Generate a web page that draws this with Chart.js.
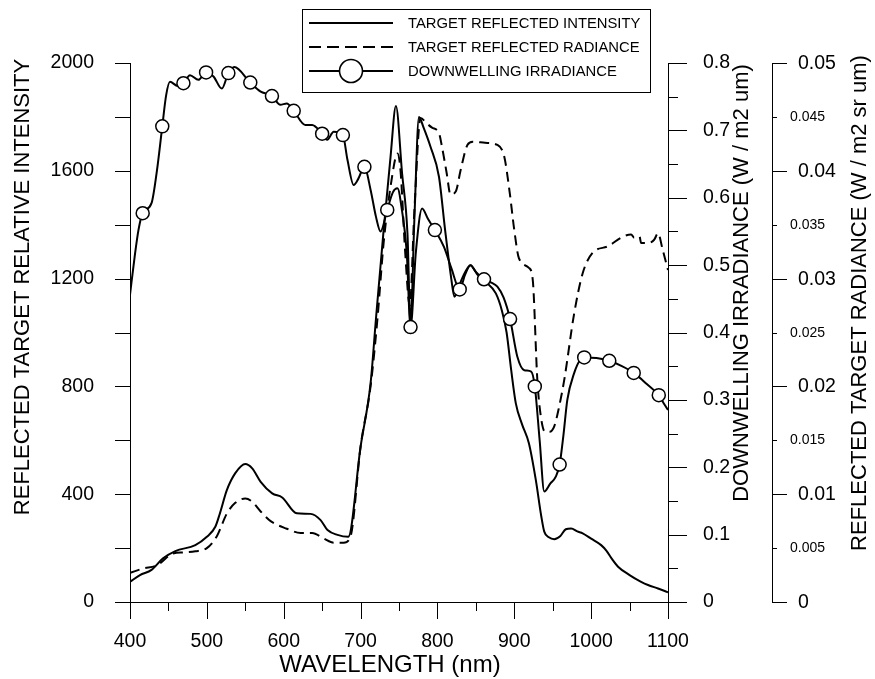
<!DOCTYPE html>
<html>
<head>
<meta charset="utf-8">
<script src="https://cdn.jsdelivr.net/npm/chart.js@4.4.1/dist/chart.umd.min.js"></script>
<style>
  html, body { margin: 0; padding: 0; background: #fff; }
  #wrap { width: 875px; height: 679px; }
</style>
</head>
<body>
<div id="wrap"><canvas id="chart" width="875" height="679"></canvas></div>
<script>
// wavelength (nm) / reflected target relative intensity
const intensityWl = [400,413,428,443,459,485,500,511,517,526,537,550,559,570,585,598,617,635,648,657,670,684,700,713,720,730,739,746,754,761,765,770,776,782,791,802,810,818,822,832,843,852,862,876,884,890,896,902,910,919,928,935,939,945,952,960,967,974,982,989,1000,1013,1020,1027,1035,1050,1065,1074,1087,1100];
const intensityVal = [75,100,119,162,189,211,242,279,329,415,478,512,496,446,403,388,329,327,304,267,249,242,576,811,1050,1380,1652,1840,1591,1368,1030,1420,1800,1760,1689,1578,1380,1200,1133,1200,1250,1215,1190,1145,1080,1000,860,737,660,589,453,320,261,240,233,245,270,273,262,255,235,211,190,160,131,100,75,63,50,36];

// reflected target radiance (W / m2 sr um)
const radianceWl = [400,417,435,456,470,485,500,513,526,537,550,559,570,583,604,622,637,652,665,678,687,700,713,722,730,740,748,752,758,764,770,778,786,793,802,806,812,817,824,830,839,846,862,878,887,894,900,906,919,924,930,935,940,946,952,958,965,978,989,1002,1022,1039,1052,1056,1063,1065,1074,1082,1087,1093,1100];
const radianceVal = [0.0027,0.0031,0.0034,0.0045,0.0046,0.0047,0.0050,0.0061,0.0082,0.0092,0.0096,0.0093,0.0084,0.0075,0.0068,0.0064,0.0064,0.0059,0.0055,0.0055,0.0061,0.0144,0.0200,0.0263,0.0333,0.0390,0.0416,0.0400,0.0325,0.0275,0.0363,0.0449,0.0444,0.0440,0.0435,0.0422,0.0398,0.0378,0.0381,0.0400,0.0424,0.0427,0.0426,0.0424,0.0413,0.0380,0.0345,0.0319,0.0310,0.0299,0.0206,0.0170,0.0158,0.0158,0.0163,0.0180,0.0206,0.0268,0.0305,0.0324,0.0330,0.0338,0.0341,0.0338,0.0339,0.0333,0.0333,0.0336,0.0342,0.0327,0.0308];

// downwelling irradiance (W / m2 um)
const irradianceWl = [400,406,411,416.5,428,435,442,447,452,462,469.5,478,489,499,508.6,519.5,528,535.6,556.5,569.5,584.7,595.6,604,613,628,637,650,656.5,665,677,683,691,697,705,713,720,726,734.7,742,748,754,760,765,772,780,788,796.7,808.5,818,829,836,843,850,860.6,870,878,886,894.5,904,913,922,926.7,933,939,947,954,959,964,969,978,985,991,1007,1023.6,1040,1055.4,1072,1088,1095,1100];
const irradianceVal = [0.456,0.512,0.552,0.577,0.592,0.640,0.706,0.752,0.772,0.766,0.770,0.782,0.775,0.786,0.780,0.762,0.785,0.794,0.771,0.758,0.751,0.738,0.740,0.729,0.708,0.708,0.695,0.686,0.698,0.693,0.656,0.619,0.628,0.646,0.612,0.572,0.550,0.582,0.608,0.614,0.580,0.520,0.408,0.520,0.584,0.568,0.552,0.527,0.496,0.464,0.486,0.500,0.490,0.479,0.474,0.468,0.452,0.420,0.364,0.344,0.342,0.320,0.240,0.164,0.176,0.186,0.204,0.248,0.300,0.340,0.358,0.363,0.362,0.358,0.350,0.340,0.324,0.307,0.294,0.285];
// wavelengths that carry a circle marker
const irradianceMarkers = [416.5,442,469.5,499,528,556.5,584.7,613,650,677,705,734.7,765,796.7,829,860.6,894.5,926.7,959,991,1023.6,1055.4,1088];

// tick labels
const xTickLabels = [400,500,600,700,800,900,1000,1100];
const intensityTickLabels = [0,400,800,1200,1600,2000];
const irradianceTickLabels = [0,0.1,0.2,0.3,0.4,0.5,0.6,0.7,0.8];
const radianceMajorTicks = [0,0.01,0.02,0.03,0.04,0.05];

const legendLabels = ['TARGET REFLECTED INTENSITY', 'TARGET REFLECTED RADIANCE', 'DOWNWELLING IRRADIANCE'];

const FONT = "'Liberation Sans', Arial, Helvetica, sans-serif";
Chart.defaults.font.family = FONT;
Chart.defaults.font.size = 19.5;
Chart.defaults.color = '#000';

function pts(wl, val) {
    return wl.map((w, i) => ({ x: w, y: val[i] }));
}
function isIn(list, v) {
    return list.some(l => Math.abs(l - v) < 1e-9);
}

// ticks of varying length, rotated axis titles and the boxed legend
const decorations = {
    id: 'decorations',
    afterDraw(chart) {
        const ctx = chart.ctx;
        const { x, y, y1, y2 } = chart.scales;
        ctx.save();
        ctx.strokeStyle = '#000';
        ctx.fillStyle = '#000';
        ctx.lineWidth = 1;

        const seg = (ax, ay, bx, by) => {
            ctx.beginPath();
            ctx.moveTo(ax, ay);
            ctx.lineTo(bx, by);
            ctx.stroke();
        };

        x.ticks.forEach(t => {
            const px = Math.round(x.getPixelForValue(t.value)) + 0.5;
            seg(px, x.top, px, x.top + (isIn(xTickLabels, t.value) ? 17 : 9));
        });
        y.ticks.forEach(t => {
            const py = Math.round(y.getPixelForValue(t.value)) + 0.5;
            seg(y.right - 15, py, y.right, py);
        });
        y1.ticks.forEach(t => {
            const py = Math.round(y1.getPixelForValue(t.value)) + 0.5;
            seg(y1.left, py, y1.left + (isIn(irradianceTickLabels, t.value) ? 19 : 10), py);
        });
        ctx.textAlign = 'left';
        ctx.textBaseline = 'middle';
        y2.ticks.forEach(t => {
            const py = Math.round(y2.getPixelForValue(t.value)) + 0.5;
            const major = isIn(radianceMajorTicks, t.value);
            seg(y2.left, py, y2.left + (major ? 15 : 5), py);
            ctx.font = (major ? '19.5px ' : '14px ') + FONT;
            ctx.fillText(String(+t.value.toFixed(3)), y2.left + (major ? 26 : 18), py);
        });

        // axis titles
        const vTitle = (text, cx, cy) => {
            ctx.save();
            ctx.translate(cx, cy);
            ctx.rotate(-Math.PI / 2);
            ctx.textAlign = 'center';
            ctx.textBaseline = 'middle';
            ctx.font = '22px ' + FONT;
            ctx.fillText(text, 0, 0);
            ctx.restore();
        };
        vTitle('REFLECTED TARGET RELATIVE INTENSITY', 23, 287);
        vTitle('DOWNWELLING IRRADIANCE (W / m2 um)', 742, 283);
        vTitle('REFLECTED TARGET RADIANCE (W / m2 sr um)', 860, 303);
        ctx.textAlign = 'center';
        ctx.font = '24px ' + FONT;
        ctx.fillText('WAVELENGTH (nm)', 390, 665);

        // legend
        ctx.strokeRect(302.5, 9.5, 348, 83);
        const rows = [23, 47, 71];
        ctx.lineWidth = 2;
        seg(309, rows[0], 393, rows[0]);
        ctx.setLineDash([12, 6]);
        seg(309, rows[1], 393, rows[1]);
        ctx.setLineDash([]);
        seg(309, rows[2], 393, rows[2]);
        ctx.beginPath();
        ctx.arc(351, rows[2], 11.5, 0, Math.PI * 2);
        ctx.fillStyle = '#fff';
        ctx.fill();
        ctx.lineWidth = 1.6;
        ctx.stroke();
        ctx.fillStyle = '#000';
        ctx.font = '14.8px ' + FONT;
        ctx.textAlign = 'left';
        legendLabels.forEach((txt, i) => ctx.fillText(txt, 408, rows[i] + 0.5));
        ctx.restore();
    }
};

const axisBorder = { display: true, color: '#000', width: 1 };

new Chart(document.getElementById('chart'), {
    type: 'line',
    data: {
        datasets: [{
            label: legendLabels[2],
            data: pts(irradianceWl, irradianceVal),
            yAxisID: 'y1',
            borderColor: '#000',
            borderWidth: 2,
            cubicInterpolationMode: 'monotone',
            pointRadius: c => (c.raw && isIn(irradianceMarkers, c.raw.x)) ? 6.5 : 0,
            pointBackgroundColor: '#fff',
            pointBorderColor: '#000',
            pointBorderWidth: 1.5,
            pointHoverRadius: 0,
            order: 0
        }, {
            label: legendLabels[0],
            data: pts(intensityWl, intensityVal),
            yAxisID: 'y',
            borderColor: '#000',
            borderWidth: 2,
            cubicInterpolationMode: 'monotone',
            pointRadius: 0,
            order: 1
        }, {
            label: legendLabels[1],
            data: pts(radianceWl, radianceVal),
            yAxisID: 'y2',
            borderColor: '#000',
            borderWidth: 2,
            borderDash: [10, 6],
            cubicInterpolationMode: 'monotone',
            pointRadius: 0,
            order: 2
        }]
    },
    options: {
        responsive: false,
        animation: false,
        devicePixelRatio: 1,
        events: [],
        layout: { padding: { top: 63, left: 0, right: 0, bottom: 0 } },
        plugins: {
            legend: { display: false },
            tooltip: { enabled: false }
        },
        scales: {
            x: {
                type: 'linear',
                position: 'bottom',
                min: 400,
                max: 1100,
                grid: { display: false },
                border: axisBorder,
                ticks: {
                    stepSize: 50,
                    autoSkip: false,
                    maxRotation: 0,
                    padding: 20,
                    callback: v => isIn(xTickLabels, v) ? String(v) : ''
                },
                afterFit: s => { s.height = 77; }
            },
            y: {
                type: 'linear',
                position: 'left',
                min: 0,
                max: 2000,
                grid: { display: false },
                border: axisBorder,
                ticks: {
                    stepSize: 200,
                    autoSkip: false,
                    padding: 28,
                    callback: v => isIn(intensityTickLabels, v) ? String(v) : ''
                },
                afterFit: s => { s.width = 130; }
            },
            y1: {
                type: 'linear',
                position: 'right',
                min: 0,
                max: 0.8,
                grid: { display: false },
                border: axisBorder,
                ticks: {
                    stepSize: 0.05,
                    autoSkip: false,
                    padding: 27,
                    callback: v => isIn(irradianceTickLabels, v) ? String(+v.toFixed(1)) : ''
                },
                afterFit: s => { s.width = 104; }
            },
            y2: {
                type: 'linear',
                position: 'right',
                min: 0,
                max: 0.05,
                grid: { display: false },
                border: axisBorder,
                ticks: { stepSize: 0.005, autoSkip: false, display: false },
                afterFit: s => { s.width = 103; }
            }
        }
    },
    plugins: [decorations]
});
</script>
</body>
</html>
